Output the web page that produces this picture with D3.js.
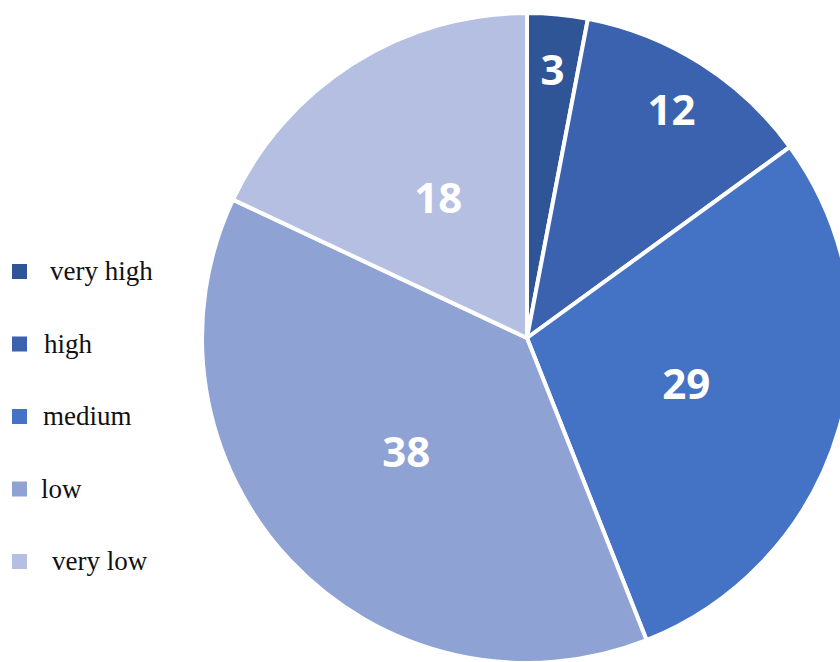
<!DOCTYPE html>
<html><head><meta charset="utf-8">
<script src="https://cdn.jsdelivr.net/npm/d3@7"></script>
<style>html,body{margin:0;padding:0;background:#fff;overflow:hidden}
.leg{font-family:"Liberation Serif","Times New Roman",Times,"DejaVu Serif",serif;font-size:27px;}
</style>
</head><body>
<svg id="chart" width="840" height="662"></svg>
<script>
const categories = ["very high", "high", "medium", "low", "very low"];
const values = [3, 12, 29, 38, 18];
const colors = ["#2F5597", "#3B62AE", "#4472C4", "#8FA2D4", "#B4BFE2"];

const svg = d3.select("#chart");
const cx = 527, cy = 338, R = 325;
const g = svg.append("g").attr("transform", `translate(${cx},${cy})`);

const pie = d3.pie().sort(null).value(d => d)(values);
const arc = d3.arc().innerRadius(0).outerRadius(R);

g.selectAll("path").data(pie).join("path")
  .attr("d", arc)
  .attr("fill", (d, i) => colors[i])
  .attr("stroke", "#fff")
  .attr("stroke-width", 4)
  .attr("stroke-linejoin", "round");

g.selectAll("text.lbl").data(pie).join("text")
  .attr("class", "lbl")
  .attr("transform", d => {
    const rr = d.value < 15 ? R * 0.83 : R * 0.51;
    const a = (d.startAngle + d.endAngle) / 2;
    return `translate(${rr * Math.sin(a)},${-rr * Math.cos(a)})`;
  })
  .attr("text-anchor", "middle")
  .attr("dy", "0.36em")
  .attr("fill", "#fff")
  .style("font-family", "'Open Sans', sans-serif")
  .style("font-weight", 700)
  .style("font-size", "42px")
  .text(d => d.value);

const legend = svg.append("g");
const rowY = d3.scalePoint().domain(categories).range([272, 562]);
const item = legend.selectAll("g").data(categories).join("g")
  .attr("transform", d => `translate(0,${rowY(d)})`);
item.append("rect")
  .attr("x", 12).attr("y", -8).attr("width", 15).attr("height", 15)
  .attr("fill", (d, i) => colors[i]);
const textX = [50, 44, 43, 41, 52];
item.append("text")
  .attr("class", "leg")
  .attr("x", (d, i) => textX[i])
  .attr("y", 8)
  .attr("fill", "#111")
  .text(d => d);
</script>
</body></html>
